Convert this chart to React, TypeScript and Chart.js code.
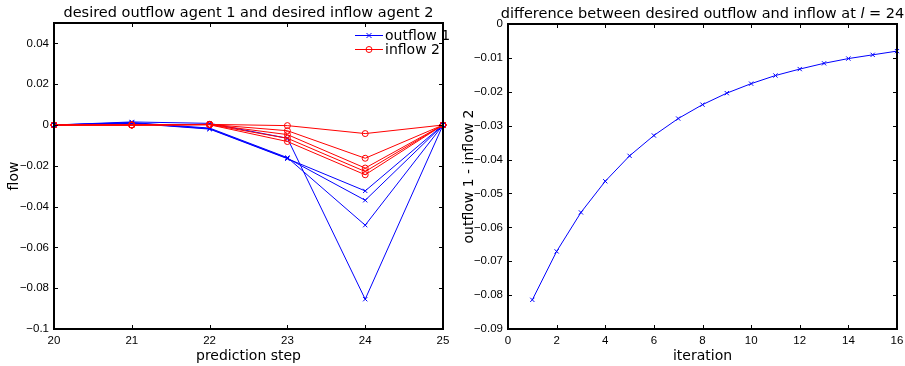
import React, { useEffect, useRef } from "react";
import { Chart, registerables } from "chart.js";

Chart.register(...registerables);

// ---------- data: left panel ----------
const predictionSteps = [20, 21, 22, 23, 24, 25];
const outflowA = [0, 0.0015, 0.0008, -0.0065, -0.0854, 0];
const outflowB = [0, 0.0012, -0.0015, -0.016, -0.0491, 0];
const outflowC = [0, 0.001, -0.0018, -0.0163, -0.0369, 0];
const outflowD = [0, 0.0008, -0.002, -0.0165, -0.0323, 0];
const inflowA = [0, 0, 0.0003, -0.0003, -0.0042, 0];
const inflowB = [0, 0, 0.0003, -0.0028, -0.0163, 0];
const inflowC = [0, 0, 0.0002, -0.0047, -0.0211, 0];
const inflowD = [0, 0, 0.0002, -0.0065, -0.0228, 0];
const inflowE = [0, 0, 0.0001, -0.0081, -0.0244, 0];
const leftXTicks = [20, 21, 22, 23, 24, 25];
const leftYTicks = [-0.1, -0.08, -0.06, -0.04, -0.02, 0, 0.02, 0.04];

// ---------- data: right panel ----------
const iterations = [1, 2, 3, 4, 5, 6, 7, 8, 9, 10, 11, 12, 13, 14, 15, 16];
const diffAt24 = [
  -0.0814, -0.0671, -0.0556, -0.0464, -0.0389, -0.0329, -0.0279, -0.0238,
  -0.0204, -0.0176, -0.0152, -0.0133, -0.0116, -0.0102, -0.0091, -0.008,
];
const rightXTicks = [0, 2, 4, 6, 8, 10, 12, 14, 16];
const rightYTicks = [-0.09, -0.08, -0.07, -0.06, -0.05, -0.04, -0.03, -0.02, -0.01, 0];

const BLUE = "#0000ff";
const RED = "#ff0000";
const TICK_FONT = { family: "'Liberation Sans', Arial, sans-serif", size: 11.5 };
const TEXT_FAMILY = "'DejaVu Sans', sans-serif";
const TEXT_SIZE = 14;
const TITLE_SIZE = 14.5;

function fmt(v: number): string {
  if (Math.abs(v) < 1e-12) return "0";
  const s = String(Number(v.toFixed(3)));
  return s.replace("-", "\u2212");
}

type Seg = { text: string; italic?: boolean };

function framePlugin(title: Seg[], legend: boolean) {
  return {
    id: "frame",
    afterDraw(chart: any) {
      const { ctx, chartArea } = chart;
      const { left, right, top, bottom } = chartArea;
      ctx.save();
      // inward ticks
      ctx.strokeStyle = "#000";
      ctx.lineWidth = 1;
      const xs = chart.scales.x;
      const ys = chart.scales.y;
      const tl = 4;
      ctx.beginPath();
      xs.ticks.forEach((t: any) => {
        const px = Math.round(xs.getPixelForValue(t.value)) + 0.5;
        ctx.moveTo(px, bottom);
        ctx.lineTo(px, bottom - tl);
        ctx.moveTo(px, top);
        ctx.lineTo(px, top + tl);
      });
      ys.ticks.forEach((t: any) => {
        const py = Math.round(ys.getPixelForValue(t.value)) + 0.5;
        ctx.moveTo(left, py);
        ctx.lineTo(left + tl, py);
        ctx.moveTo(right, py);
        ctx.lineTo(right - tl, py);
      });
      ctx.stroke();
      // box
      ctx.lineWidth = 2;
      ctx.strokeRect(left, top, right - left, bottom - top);

      // title
      ctx.fillStyle = "#000";
      ctx.textBaseline = "alphabetic";
      ctx.textAlign = "left";
      const fontFor = (s: Seg) =>
        `${s.italic ? "italic " : ""}${TITLE_SIZE}px ${TEXT_FAMILY}`;
      let total = 0;
      title.forEach((s) => {
        ctx.font = fontFor(s);
        total += ctx.measureText(s.text).width;
      });
      let x = (left + right) / 2 - total / 2;
      const ty = top - 6;
      title.forEach((s) => {
        ctx.font = fontFor(s);
        ctx.fillText(s.text, x, ty);
        x += ctx.measureText(s.text).width;
      });

      if (legend) {
        const x0 = right - 88;
        const rows = [
          { label: "outflow 1", color: BLUE, marker: "x", y: top + 12 },
          { label: "inflow 2", color: RED, marker: "o", y: top + 26 },
        ];
        rows.forEach((r) => {
          ctx.strokeStyle = r.color;
          ctx.lineWidth = 1;
          ctx.beginPath();
          ctx.moveTo(x0, r.y + 0.5);
          ctx.lineTo(x0 + 28, r.y + 0.5);
          ctx.stroke();
          const mx = x0 + 14;
          const my = r.y + 0.5;
          ctx.beginPath();
          if (r.marker === "x") {
            ctx.moveTo(mx - 2.5, my - 2.5);
            ctx.lineTo(mx + 2.5, my + 2.5);
            ctx.moveTo(mx - 2.5, my + 2.5);
            ctx.lineTo(mx + 2.5, my - 2.5);
          } else {
            ctx.arc(mx, my, 3, 0, Math.PI * 2);
          }
          ctx.stroke();
          ctx.fillStyle = "#000";
          ctx.font = `${TEXT_SIZE}px ${TEXT_FAMILY}`;
          ctx.textBaseline = "middle";
          ctx.fillText(r.label, x0 + 30, r.y + 1);
        });
      }
      ctx.restore();
    },
  };
}

function lineDs(data: number[], xs: number[], color: string, style: string) {
  return {
    data: xs.map((x, i) => ({ x, y: data[i] })),
    borderColor: color,
    backgroundColor: "rgba(0,0,0,0)",
    borderWidth: 1,
    pointStyle: style,
    pointRadius: 3,
    pointBorderWidth: 1,
    pointBorderColor: color,
    pointBackgroundColor: "rgba(0,0,0,0)",
    tension: 0,
    clip: false as any,
  };
}

function axes(
  xMin: number,
  xMax: number,
  xTicks: number[],
  yMin: number,
  yMax: number,
  yTicks: number[],
  xTitle: string,
  yTitle: string,
  yWidth: number
) {
  return {
    x: {
      type: "linear",
      min: xMin,
      max: xMax,
      afterBuildTicks: (s: any) => {
        s.ticks = xTicks.map((v) => ({ value: v }));
      },
      afterFit: (s: any) => {
        s.height = 37;
        s.paddingLeft = 0;
        s.paddingRight = 0;
      },
      grid: { display: false, drawTicks: false },
      border: { display: false },
      ticks: {
        color: "#000",
        font: TICK_FONT,
        padding: 5,
        maxRotation: 0,
        autoSkip: false,
        callback: (v: any) => fmt(Number(v)),
      },
      title: {
        display: true,
        text: xTitle,
        color: "#000",
        font: { family: TEXT_FAMILY, size: TEXT_SIZE },
        padding: { top: 0, bottom: 1 },
      },
    },
    y: {
      type: "linear",
      min: yMin,
      max: yMax,
      afterBuildTicks: (s: any) => {
        s.ticks = yTicks.map((v) => ({ value: v }));
      },
      afterFit: (s: any) => {
        s.width = yWidth;
        s.paddingTop = 0;
        s.paddingBottom = 0;
      },
      grid: { display: false, drawTicks: false },
      border: { display: false },
      ticks: {
        color: "#000",
        font: TICK_FONT,
        padding: 5,
        autoSkip: false,
        callback: (v: any) => fmt(Number(v)),
      },
      title: {
        display: true,
        text: yTitle,
        color: "#000",
        font: { family: TEXT_FAMILY, size: TEXT_SIZE },
        padding: { top: 6, bottom: 0 },
      },
    },
  };
}

export default function App() {
  const leftRef = useRef<HTMLCanvasElement>(null);
  const rightRef = useRef<HTMLCanvasElement>(null);

  useEffect(() => {
    const left = new Chart(leftRef.current as HTMLCanvasElement, {
      type: "line",
      data: {
        datasets: [
          lineDs(inflowA, predictionSteps, RED, "circle"),
          lineDs(inflowB, predictionSteps, RED, "circle"),
          lineDs(inflowC, predictionSteps, RED, "circle"),
          lineDs(inflowD, predictionSteps, RED, "circle"),
          lineDs(inflowE, predictionSteps, RED, "circle"),
          lineDs(outflowA, predictionSteps, BLUE, "crossRot"),
          lineDs(outflowB, predictionSteps, BLUE, "crossRot"),
          lineDs(outflowC, predictionSteps, BLUE, "crossRot"),
          lineDs(outflowD, predictionSteps, BLUE, "crossRot"),
        ] as any,
      },
      options: {
        animation: false,
        responsive: false,
        devicePixelRatio: 1,
        layout: { padding: { left: 0, right: 12, top: 23, bottom: 0 } },
        plugins: { legend: { display: false }, tooltip: { enabled: false } },
        scales: axes(20, 25, leftXTicks, -0.1, 0.05, leftYTicks, "prediction step", "flow", 54) as any,
      },
      plugins: [framePlugin([{ text: "desired outflow agent 1 and desired inflow agent 2" }], true)],
    });

    const right = new Chart(rightRef.current as HTMLCanvasElement, {
      type: "line",
      data: {
        datasets: [lineDs(diffAt24, iterations, BLUE, "crossRot")] as any,
      },
      options: {
        animation: false,
        responsive: false,
        devicePixelRatio: 1,
        layout: { padding: { left: 0, right: 8, top: 24, bottom: 0 } },
        plugins: { legend: { display: false }, tooltip: { enabled: false } },
        scales: axes(0, 16, rightXTicks, -0.09, 0, rightYTicks, "iteration", "outflow 1 - inflow 2", 53) as any,
      },
      plugins: [
        framePlugin(
          [
            { text: "difference between desired outflow and inflow at " },
            { text: "l", italic: true },
            { text: " = 24" },
          ],
          false
        ),
      ],
    });

    return () => {
      left.destroy();
      right.destroy();
    };
  }, []);

  return (
    <div
      style={{
        position: "fixed",
        left: 0,
        top: 0,
        width: 905,
        height: 366,
        background: "#fff",
      }}
    >
      <canvas
        ref={leftRef}
        width={455}
        height={366}
        style={{ position: "absolute", left: 0, top: 0 }}
      />
      <canvas
        ref={rightRef}
        width={450}
        height={366}
        style={{ position: "absolute", left: 455, top: 0 }}
      />
    </div>
  );
}
